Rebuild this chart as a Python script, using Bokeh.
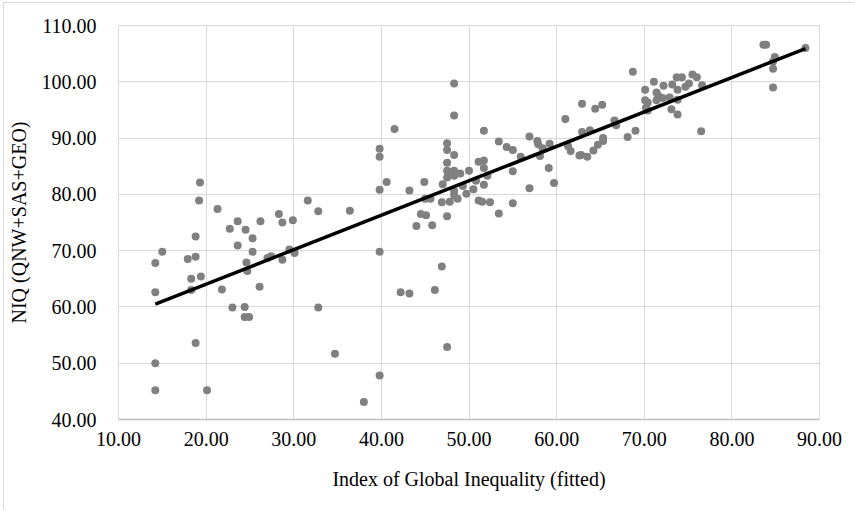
import numpy as np
from bokeh.plotting import figure
from bokeh.models import Range1d, FixedTicker, NumeralTickFormatter, ColumnDataSource
from bokeh.embed import file_html
from bokeh.resources import INLINE

# Index of Global Inequality (fitted)
igi = [
    19.3, 19.2, 21.3, 15.0, 14.2, 18.8, 17.9, 18.8, 18.3, 19.4, 18.3, 14.2, 21.8, 22.7, 23.6,
    24.5, 25.3, 23.6, 25.3, 24.6, 24.7, 26.2, 26.1, 23.0, 24.4, 24.4, 24.9, 28.3, 28.7, 29.9,
    27.0, 27.4, 28.7, 29.5, 30.1, 31.6, 32.8, 32.8, 18.8, 14.2, 14.2, 20.1, 34.7,
    48.3, 48.3, 41.5, 51.7, 39.8, 39.8, 47.5, 47.5, 48.3, 47.5, 47.5, 47.9, 48.3, 47.5, 48.3,
    49.0, 47.0, 50.0, 51.1, 51.7, 51.7, 52.1, 50.8, 51.7, 50.5, 49.3, 49.7, 48.3, 48.3, 48.7,
    47.8, 46.9, 47.5, 44.9, 43.2, 40.6, 39.8, 45.0, 45.6, 44.5, 45.1, 44.0, 45.8, 36.4, 39.8,
    46.9, 42.2, 43.2, 46.1, 47.5, 39.8, 38.0, 53.4, 54.3, 55.0, 55.9, 55.0, 56.9, 57.8, 57.9,
    58.4, 59.2, 58.1, 59.1, 59.7, 56.9, 61.0, 61.3, 61.6, 62.6, 51.1, 51.5, 52.4, 53.4, 55.0,
    83.6, 83.9, 88.4, 84.9, 84.7, 84.7, 84.7, 68.7, 71.1, 70.1, 72.2, 73.2, 73.7, 74.3, 75.5,
    76.0, 76.6, 75.1, 74.7, 73.8, 71.4, 71.6, 72.1, 72.9, 73.8, 70.1, 70.4, 71.4, 70.2, 70.4,
    73.1, 73.8, 76.5, 62.9, 64.4, 65.2, 62.9, 63.8, 66.6, 66.8, 68.1, 69.0, 62.8, 63.5, 64.2,
    64.7, 65.3, 65.3,
]
# NIQ (QNW+SAS+GEO)
niq = [
    82.1, 78.9, 77.4, 69.8, 67.8, 72.5, 68.5, 68.9, 65.0, 65.4, 63.0, 62.6, 63.1, 73.9, 75.2,
    73.7, 72.2, 70.9, 69.8, 67.9, 66.4, 75.2, 63.6, 59.9, 60.0, 58.2, 58.2, 76.5, 75.0, 75.4,
    68.7, 69.0, 68.4, 70.2, 69.6, 78.9, 77.0, 59.9, 53.6, 50.0, 45.2, 45.2, 51.7,
    99.7, 94.0, 91.6, 91.3, 88.1, 86.7, 89.1, 87.9, 87.0, 85.6, 84.2, 83.9, 84.2, 83.0, 83.3,
    83.7, 81.8, 84.2, 85.8, 86.0, 84.7, 83.3, 82.4, 81.7, 80.9, 81.5, 80.1, 80.6, 79.8, 79.2,
    78.7, 78.6, 76.1, 82.2, 80.7, 82.2, 80.8, 79.2, 79.2, 76.5, 76.3, 74.4, 74.5, 77.1, 69.8,
    67.2, 62.6, 62.4, 63.0, 52.9, 47.8, 43.1, 89.4, 88.4, 87.9, 86.7, 84.1, 90.3, 89.5, 88.9,
    88.2, 89.0, 86.8, 84.7, 82.0, 81.1, 93.4, 88.6, 87.7, 86.9, 78.9, 78.7, 78.6, 76.6, 78.4,
    106.6, 106.6, 106.0, 104.4, 103.6, 102.3, 99.0, 101.8, 100.0, 98.6, 99.3, 99.5, 100.8, 100.8, 101.3,
    100.8, 99.4, 99.7, 99.1, 98.6, 98.1, 97.5, 97.1, 97.2, 96.8, 96.7, 96.3, 96.7, 95.4, 94.9,
    95.1, 94.2, 91.2, 96.1, 95.2, 95.9, 91.1, 91.4, 93.1, 92.3, 90.2, 91.3, 87.0, 86.7, 87.8,
    88.8, 90.0, 89.5,
]
x_ticks = [10, 20, 30, 40, 50, 60, 70, 80, 90]
y_ticks = [40, 50, 60, 70, 80, 90, 100, 110]
x_title = "Index of Global Inequality (fitted)"
y_title = "NIQ (QNW+SAS+GEO)"

FONT = "Liberation Serif"

p = figure(width=851, height=508, output_backend="svg", toolbar_location=None,
           x_range=Range1d(10, 90), y_range=Range1d(40, 110),
           min_border_left=108, min_border_right=36, min_border_top=22, min_border_bottom=92)
p.styles = {"margin-left": "3px", "margin-top": "2px",
            "border-left": "1px solid #d9d9d9", "border-top": "1px solid #d9d9d9"}

p.outline_line_color = "#d9d9d9"
p.xaxis.ticker = FixedTicker(ticks=x_ticks)
p.yaxis.ticker = FixedTicker(ticks=y_ticks)
p.xaxis.formatter = NumeralTickFormatter(format="0.00")
p.yaxis.formatter = NumeralTickFormatter(format="0.00")
for ax in (p.xaxis, p.yaxis):
    ax.major_tick_line_color = None
    ax.minor_tick_line_color = None
    ax.major_label_text_font = FONT
    ax.major_label_text_font_size = "20px"
    ax.major_label_text_color = "#000000"
    ax.axis_label_text_font = FONT
    ax.axis_label_text_font_size = "20px"
    ax.axis_label_text_font_style = "normal"
    ax.axis_label_text_color = "#000000"
p.yaxis.axis_line_color = None
p.xaxis.axis_line_color = "#bfbfbf"
p.xaxis.axis_line_width = 1.5
p.yaxis.major_label_standoff = 16
p.xaxis.major_label_standoff = 6
p.yaxis.axis_label_standoff = 9
p.xaxis.axis_label_standoff = 19
p.xaxis.axis_label = x_title
p.yaxis.axis_label = y_title
p.xgrid.grid_line_color = "#d9d9d9"
p.ygrid.grid_line_color = "#d9d9d9"

src = ColumnDataSource(dict(x=igi, y=niq))
p.scatter("x", "y", source=src, size=8, color="#808080", line_color=None)

# linear trend line (least squares fit)
slope, intercept = np.polyfit(igi, niq, 1)
xs = [min(igi), max(igi)]
ys = [slope * v + intercept for v in xs]
p.line(xs, ys, line_color="#000000", line_width=3.5)

open("out.html", "w").write(file_html(p, INLINE))
